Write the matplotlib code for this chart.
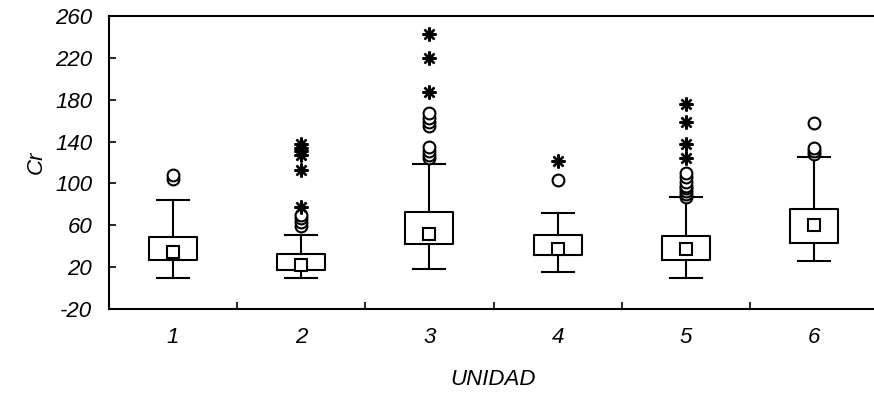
import numpy as np
import matplotlib.pyplot as plt

plt.rcParams['font.family'] = ['Liberation Sans', 'DejaVu Sans']
plt.rcParams['axes.unicode_minus'] = False

# resumen por unidad: mediana, caja 25%-75%, rango sin atipicos
unidades = ['1', '2', '3', '4', '5', '6']
mediana = [34, 22, 52, 37, 37, 60]
q25 = [27, 17, 42, 32, 27, 43]
q75 = [49, 33, 73, 51, 50, 76]
bigote_inf = [10, 10, 18, 15, 10, 26]
bigote_sup = [84, 51, 119, 72, 87, 125]

# atipicos (circulos) y extremos (asteriscos)
atipicos = [
    [104, 108],
    [59, 63, 67, 70],
    [124, 127, 131, 135, 155, 159, 163, 167],
    [103],
    [87, 90, 93, 96, 98, 101, 106, 110],
    [128, 131, 134, 158],
]
extremos = [
    [],
    [77, 113, 127, 131, 134, 138],
    [187, 220, 243],
    [121],
    [124, 138, 159, 176],
    [],
]

fig = plt.figure(figsize=(8.74, 3.96), dpi=100)
ax = fig.add_axes([109/874, 87/396, 769/874, 293/396])

x = np.arange(1, len(unidades) + 1)
stats = []
for i in range(len(unidades)):
    stats.append(dict(med=mediana[i], q1=q25[i], q3=q75[i],
                      whislo=bigote_inf[i], whishi=bigote_sup[i], fliers=[]))

lw = 1.5
ax.bxp(stats, positions=x, widths=0.375, showfliers=False,
       boxprops=dict(color='black', linewidth=lw),
       whiskerprops=dict(color='black', linewidth=lw),
       capprops=dict(color='black', linewidth=lw),
       medianprops=dict(linewidth=0), capwidths=0.25, manage_ticks=False)

ax.plot(x, mediana, 's', ms=8, mfc='white', mec='black', mew=lw, zorder=4)

for i in range(len(unidades)):
    if atipicos[i]:
        ax.plot([x[i]] * len(atipicos[i]), atipicos[i], 'o', ms=8.5,
                mfc='white', mec='black', mew=lw, zorder=3)
    if extremos[i]:
        ax.plot([x[i]] * len(extremos[i]), extremos[i], marker=(8, 2, 0),
                ls='none', ms=10, mec='black', mew=1.7, zorder=3)

ax.set_xlim(0.5, 6.5)
ax.set_ylim(-20, 260)
ax.set_yticks(np.arange(-20, 261, 40))
ax.set_xticks(x)
ax.set_xticklabels(unidades)
ax.set_xticks(np.arange(1.5, 6.5, 1), minor=True)
ax.tick_params(axis='x', which='major', length=0, pad=13, labelsize=16)
ax.tick_params(axis='x', which='minor', direction='in', length=5, width=1.2)
ax.tick_params(axis='y', direction='in', length=5, width=1.2, pad=12,
               labelsize=16)
for lab in ax.get_xticklabels() + ax.get_yticklabels():
    lab.set_style('italic')

ax.spines['right'].set_visible(False)
for s in ['left', 'top', 'bottom']:
    ax.spines[s].set_linewidth(1.5)

ax.set_xlabel('UNIDAD', fontsize=16, style='italic', labelpad=15)
ax.set_ylabel('Cr', fontsize=16, style='italic', labelpad=6)

fig.savefig('out.png', dpi=100)
